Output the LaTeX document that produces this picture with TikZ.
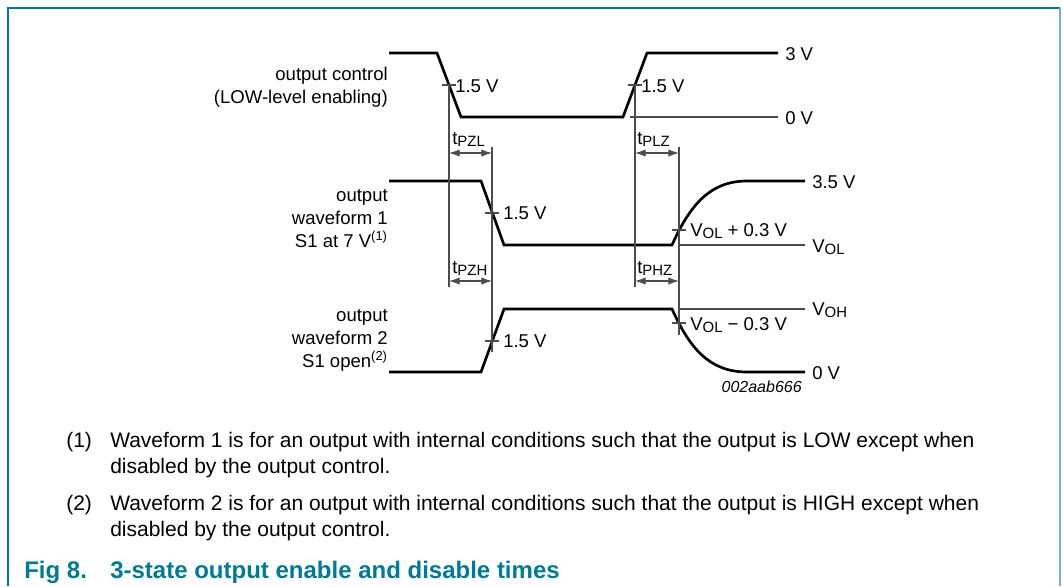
\documentclass[tikz,border=0pt]{standalone}
\usepackage{fontspec}
\setmainfont{Liberation Sans}
\usetikzlibrary{arrows.meta}
\definecolor{figteal}{RGB}{0,122,150}
\definecolor{frameteal}{RGB}{110,180,200}
\newcommand{\lowtxt}[1]{\raisebox{-2.2pt}{\fontsize{11.2}{12}\selectfont #1}}

\begin{document}
\begin{tikzpicture}[x=0.75pt, y=-0.75pt,
        wave/.style={line width=2pt, line join=miter},
        guide/.style={line width=0.8pt, black!70},
        dimline/.style={guide, {Latex[length=8pt,width=5.5pt]}-{Latex[length=8pt,width=5.5pt]}},
        lbl/.style={inner sep=0pt, anchor=base west, font=\fontsize{13.9}{17.25}\selectfont},
        side/.style={inner sep=0pt, anchor=north east, align=right, font=\fontsize{13.9}{17.25}\selectfont},
        note/.style={inner sep=0pt, anchor=north west, align=left, font=\fontsize{15.75}{19.5}\selectfont},
        figcap/.style={inner sep=0pt, anchor=base west, text=figteal, font=\fontsize{18}{20}\selectfont\bfseries}]
        \useasboundingbox (0,0) rectangle (1063,586);

        % frame
        \draw[figteal, line width=1.5pt] (8,586) -- (8,8) -- (1060,8);
        \draw[frameteal, line width=1.5pt] (1060,8) -- (1060,586);

        % waveforms
        \draw[wave] (389,53) -- (437,53) -- (461,117) -- (623,117) -- (647,53) -- (778,53);
        \draw[wave] (389,181) -- (481,181) -- (504,245) -- (672,245)
            .. controls (690,205) and (710,181) .. (747,181) -- (805,181);
        \draw[wave] (389,372) -- (481,372) -- (504,309) -- (672,309)
            .. controls (690,349) and (710,372) .. (747,372) -- (805,372);

        % reference levels and guides
        \draw[guide] (630,117) -- (778,117);
        \draw[guide] (678,245) -- (805,245);
        \draw[guide] (678,309) -- (805,309);
        \draw[guide] (449,85) -- (449,287);
        \draw[guide] (492,147) -- (492,352);
        \draw[guide] (635,85) -- (635,287);
        \draw[guide] (679,147) -- (679,335);
        \foreach \x/\y in {449/85, 635/85, 492/213, 492/341, 679/230, 679/323}
            \draw[guide] (\x-7,\y) -- (\x+7,\y);

        % timing arrows
        \coordinate (pzl a) at (449,153);
        \coordinate (pzl b) at (492,153);
        \coordinate (pzh a) at (449,281);
        \coordinate (pzh b) at (492,281);
        \coordinate (plz a) at (635,153);
        \coordinate (plz b) at (679,153);
        \coordinate (phz a) at (635,281);
        \coordinate (phz b) at (679,281);
        \draw[dimline] (pzl a) -- (pzl b);
        \draw[dimline] (pzh a) -- (pzh b);
        \draw[dimline] (plz a) -- (plz b);
        \draw[dimline] (phz a) -- (phz b);
        \node[lbl] (tpzl) at (452,144) {t\lowtxt{PZL}};
        \node[lbl] (tpzh) at (452,273) {t\lowtxt{PZH}};
        \node[lbl] (tplz) at (637,144) {t\lowtxt{PLZ}};
        \node[lbl] (tphz) at (637,273) {t\lowtxt{PHZ}};

        % signal names
        \node[side] (ctrl) at (388,67) {output control\\(LOW-level enabling)};
        \node[side] (wfa) at (388,189) {output\\waveform 1\\S1 at 7 V\textsuperscript{(1)}};
        \node[side] (wfb) at (388,309) {output\\waveform 2\\S1 open\textsuperscript{(2)}};

        % levels
        \node[lbl] (hi) at (785,60) {3 V};
        \node[lbl] (lo) at (785,124) {0 V};
        \node[lbl] (top) at (812,188) {3.5 V};
        \node[lbl] (vol) at (812,252) {V\lowtxt{OL}};
        \node[lbl] (voh) at (812,315) {V\lowtxt{OH}};
        \node[lbl] (zero) at (812,379) {0 V};
        \node[lbl] (mida) at (455,92) {1.5 V};
        \node[lbl] (midb) at (641,92) {1.5 V};
        \node[lbl] (midc) at (503,219) {1.5 V};
        \node[lbl] (midd) at (503,347) {1.5 V};
        \node[lbl] (volp) at (690,236) {V\lowtxt{OL} + 0.3 V};
        \node[lbl] (volm) at (690,330) {V\lowtxt{OL} − 0.3 V};
        \node[inner sep=0pt, anchor=base east, font=\fontsize{12}{14}\selectfont\itshape] (code) at (802,392) {002aab666};

        % notes
        \node[note] (na) at (66,432) {(1)};
        \node[note] (ta) at (110,432) {Waveform 1 is for an output with internal conditions such that the output is LOW except when\\disabled by the output control.};
        \node[note] (nb) at (66,495) {(2)};
        \node[note] (tb) at (110,495) {Waveform 2 is for an output with internal conditions such that the output is HIGH except when\\disabled by the output control.};
        \node[figcap] (fig) at (24,578) {Fig 8.};
        \node[figcap] (title) at (110,578) {3-state output enable and disable times};
    \end{tikzpicture}
\end{document}
